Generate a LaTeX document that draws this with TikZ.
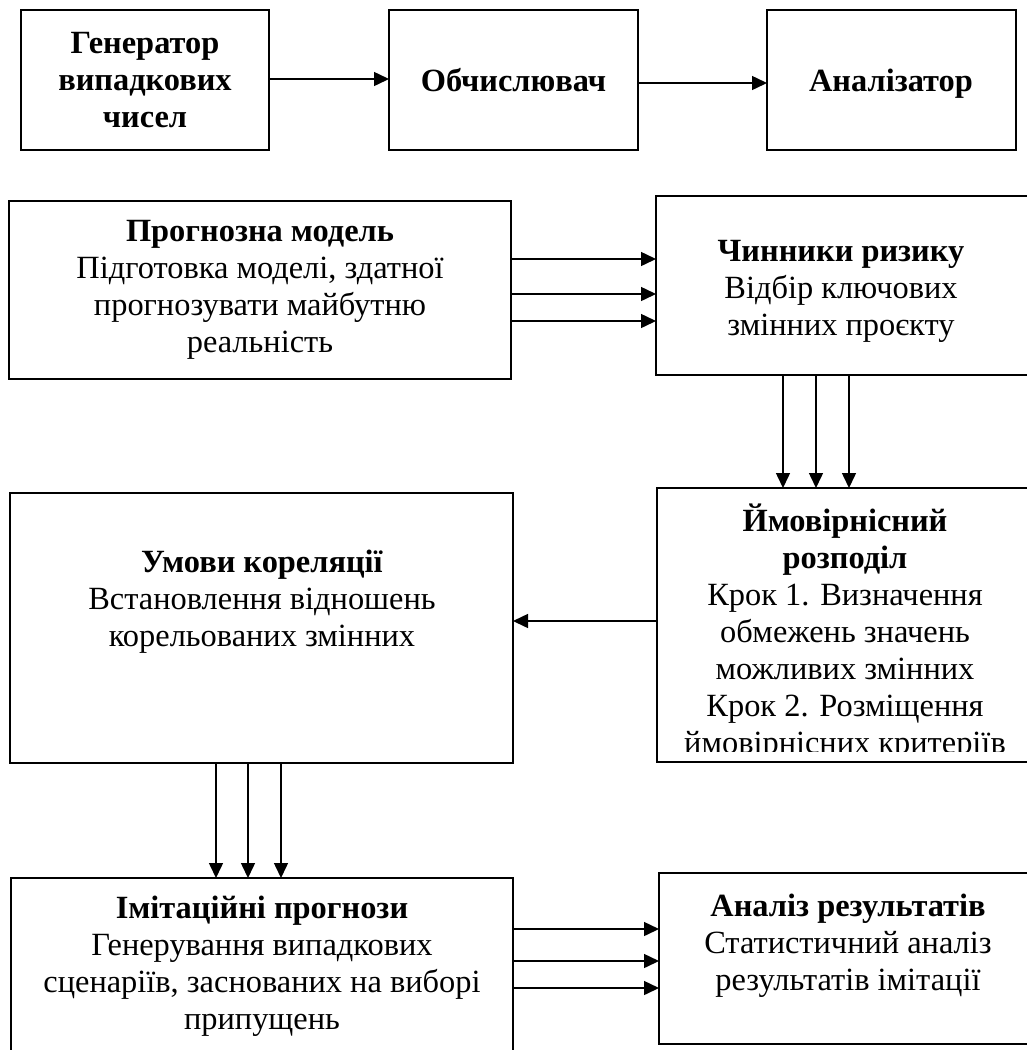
\documentclass[tikz,border=0pt]{standalone}
\usepackage{fontspec}
\setmainfont{Liberation Serif}
\usetikzlibrary{arrows.meta}
\newcommand\diagfont{\fontsize{32.4pt}{37pt}\selectfont}
\tikzset{
  box/.style={draw, line width=1.6pt, inner sep=0pt, outer sep=0pt,
    align=center, anchor=north west, font=\diagfont},
  label/.style={align=center, inner sep=0pt, font=\diagfont},
  arr/.style={line width=1.5pt, -{Triangle[length=15pt,width=14pt]}}
}
\begin{document}
\begin{tikzpicture}[x=1pt, y=-1pt]
  \useasboundingbox (0,0) rectangle (1027,1050);
  \fill[white] (0,0) rectangle (1027,1050);

  % top row: generator -> computer -> analyser
  \node[box, minimum width=248pt, minimum height=140pt] (gen) at (21,10)
    {\bfseries Генератор\\ \bfseries випадкових\\ \bfseries чисел};
  \node[box, minimum width=249pt, minimum height=140pt] (calc) at (389,10)
    {\bfseries Обчислювач};
  \node[box, minimum width=249pt, minimum height=140pt] (anlz) at (767,10) {};
  \node[label, font=\diagfont\bfseries] (anlzT) at (891,84) {Аналізатор};

  \draw[arr] (gen.east |- 0,79) -- (calc.west |- 0,79);
  \draw[arr] (calc.east |- 0,83) -- (anlz.west |- 0,83);

  % process blocks
  \node[box, minimum width=502pt, minimum height=178pt] (prog) at (9,201)
    {\textbf{Прогнозна модель}\\ Підготовка моделі, здатної\\ прогнозувати майбутню\\ реальність};
  \node[box, minimum width=374pt, minimum height=179pt] (risk) at (656,196) {};
  \node[box, minimum width=372pt, minimum height=274pt] (dist) at (657,488) {};
  \node[box, minimum width=503pt, minimum height=270pt] (corr) at (10,493) {};
  \node[box, minimum width=502pt, minimum height=185pt] (imit) at (11,878) {};
  \node[box, minimum width=372pt, minimum height=171pt] (res) at (659,873) {};

  % block texts
  \node[label] (riskT) at (841,291)
    {\textbf{Чинники ризику}\\ Відбір ключових\\ змінних проєкту};
  \begin{scope}
    \clip (dist.north west) rectangle ([yshift=11pt]dist.south east);
    \node[label] (distT) at (845,632)
      {\textbf{Ймовірнісний}\\ \textbf{розподіл}\\ Крок 1. Визначення\\ обмежень значень\\
       можливих змінних\\ Крок 2. Розміщення\\ ймовірнісних критеріїв};
  \end{scope}
  \node[label] (corrT) at (262,602)
    {\textbf{Умови кореляції}\\ Встановлення відношень\\ корельованих змінних};
  \node[label] (imitT) at (262,966)
    {\textbf{Імітаційні прогнози}\\ Генерування випадкових\\ сценаріїв, заснованих на виборі\\ припущень};
  \node[label] (resT) at (848,946)
    {\textbf{Аналіз результатів}\\ Статистичний аналіз\\ результатів імітації};

  % connectors
  \foreach \yy in {259,294,321}
    \draw[arr] (prog.east |- 0,\yy) -- (risk.west |- 0,\yy);
  \foreach \xx in {783,816,849}
    \draw[arr] (risk.south -| \xx,0) -- (dist.north -| \xx,0);
  \draw[arr] (dist.west |- 0,621) -- (corr.east |- 0,621);
  \foreach \xx in {216,248,281}
    \draw[arr] (corr.south -| \xx,0) -- (imit.north -| \xx,0);
  \foreach \yy in {929,961,988}
    \draw[arr] (imit.east |- 0,\yy) -- (res.west |- 0,\yy);
\end{tikzpicture}
\end{document}
